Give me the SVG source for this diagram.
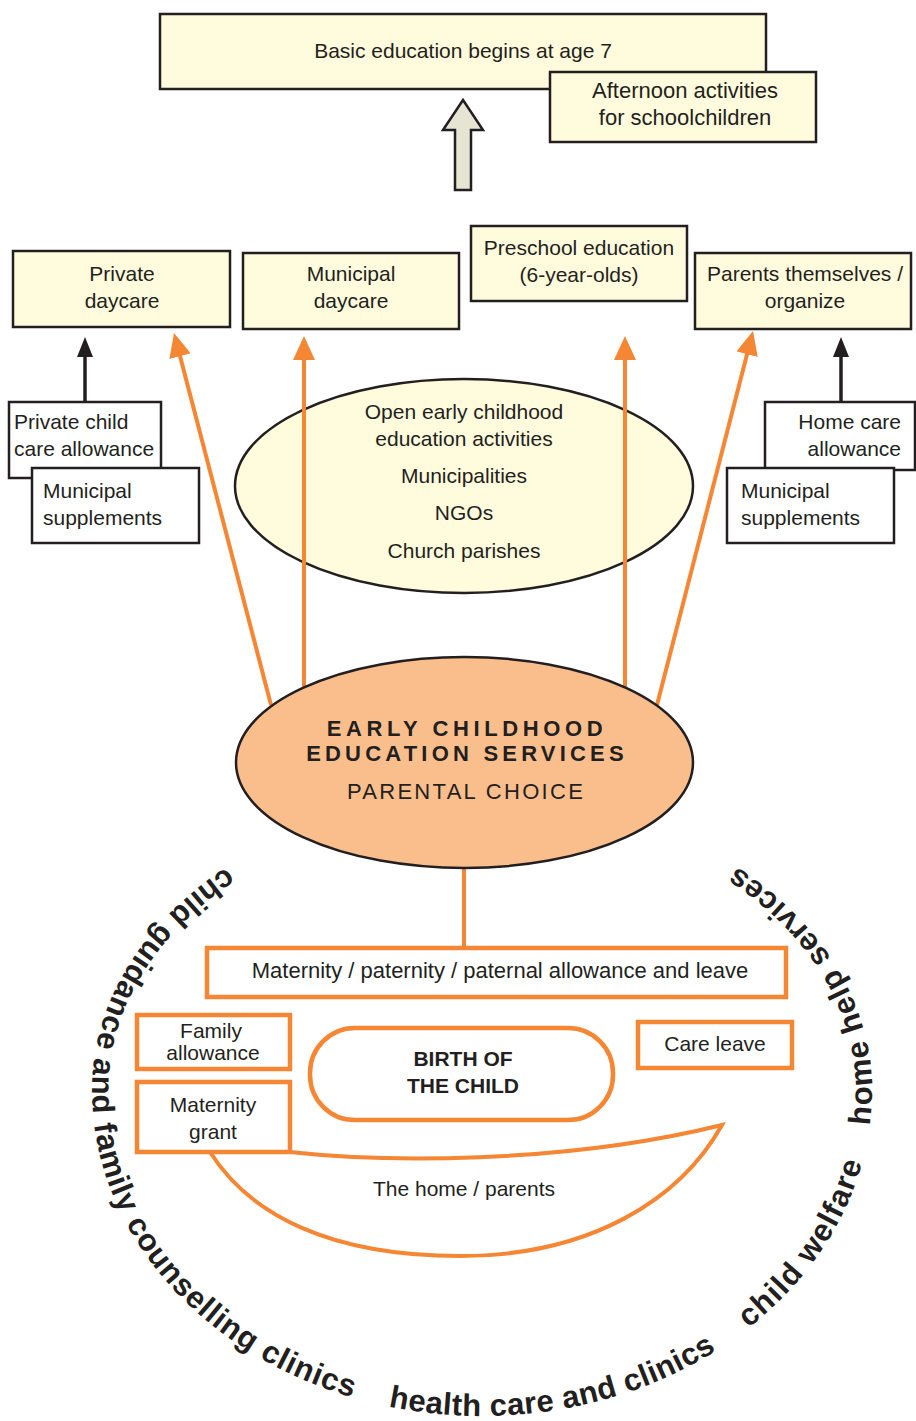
<svg xmlns="http://www.w3.org/2000/svg" width="916" height="1421" viewBox="0 0 916 1421">
<style>
.box{fill:#FFFBDC;stroke:#231F20;stroke-width:2.5}
.wbox{fill:#FFFFFF;stroke:#231F20;stroke-width:2.5}
.obox{fill:#FFFFFF;stroke:#F58634;stroke-width:4.5}
.t{font-family:"Liberation Sans",Arial,sans-serif;font-size:21px;fill:#231F20}
.t22{font-size:22px}
.c{text-anchor:middle}
.e{text-anchor:end}
.b{font-weight:bold}
.ring{font-family:"Liberation Sans",Arial,sans-serif;font-weight:bold;font-size:31px;fill:#231F20}
.oline{stroke:#F58634;stroke-width:4;fill:none}
.kline{stroke:#231F20;stroke-width:3.5;fill:none}
</style>
<defs>
<marker id="oa" markerUnits="userSpaceOnUse" markerWidth="24" markerHeight="22" viewBox="0 0 24 22" refX="3" refY="11" orient="auto"><path d="M0,0 L24,11 L0,22 z" fill="#F58634"/></marker>
<marker id="ka" markerUnits="userSpaceOnUse" markerWidth="20" markerHeight="16" viewBox="0 0 20 16" refX="2" refY="8" orient="auto"><path d="M0,0 L20,8 L0,16 z" fill="#231F20"/></marker>
<path id="ringpath" d="M 228 866 A 390 295 0 0 0 92 1090 A 390 326 0 0 0 872 1090 A 390 295 0 0 0 722.1 857.5"/>
</defs>
<rect width="916" height="1421" fill="#FFFFFF"/>

<g id="basic-education">
<rect class="box" x="160" y="14" width="606" height="75"/>
<text class="t c" x="463" y="58">Basic education begins at age 7</text>
</g>
<g id="afternoon-activities">
<rect class="box" x="550" y="72" width="266" height="70"/>
<text class="t t22 c" x="685" y="98">Afternoon activities</text>
<text class="t t22 c" x="685" y="125">for schoolchildren</text>
</g>
<g id="big-arrow">
<polygon points="463,100 483,130 471,130 471,190 455,190 455,130 443,130" fill="#E6E5D3" stroke="#231F20" stroke-width="2.5" stroke-linejoin="miter"/>
</g>

<g id="private-daycare">
<rect class="box" x="13" y="251" width="217" height="76"/>
<text class="t c" x="122" y="281">Private</text>
<text class="t c" x="122" y="308">daycare</text>
</g>
<g id="municipal-daycare">
<rect class="box" x="243" y="253" width="216" height="76"/>
<text class="t c" x="351" y="281">Municipal</text>
<text class="t c" x="351" y="308">daycare</text>
</g>
<g id="preschool">
<rect class="box" x="471" y="226" width="216" height="75"/>
<text class="t c" x="579" y="255">Preschool education</text>
<text class="t c" x="579" y="282">(6-year-olds)</text>
</g>
<g id="parents-organize">
<rect class="box" x="695" y="253" width="216" height="76"/>
<text class="t c" x="805" y="281">Parents themselves /</text>
<text class="t c" x="805" y="308">organize</text>
</g>

<g id="private-allowance">
<rect class="wbox" x="9" y="402" width="152" height="76"/>
<text class="t" x="14" y="429">Private child</text>
<text class="t" x="14" y="456">care allowance</text>
</g>
<g id="municipal-supplements-left">
<rect class="wbox" x="32" y="468" width="167" height="75"/>
<text class="t" x="43" y="498">Municipal</text>
<text class="t" x="43" y="525">supplements</text>
</g>
<g id="home-care-allowance">
<rect class="wbox" x="765" y="402" width="150" height="68"/>
<text class="t e" x="901" y="429">Home care</text>
<text class="t e" x="901" y="456">allowance</text>
</g>
<g id="municipal-supplements-right">
<rect class="wbox" x="727" y="468" width="167" height="75"/>
<text class="t" x="741" y="498">Municipal</text>
<text class="t" x="741" y="525">supplements</text>
</g>

<g id="open-activities">
<ellipse cx="464" cy="486" rx="229" ry="107" fill="#FFFBDC" stroke="#231F20" stroke-width="2.5"/>
<text class="t c" x="464" y="419">Open early childhood</text>
<text class="t c" x="464" y="446">education activities</text>
<text class="t c" x="464" y="483">Municipalities</text>
<text class="t c" x="464" y="520">NGOs</text>
<text class="t c" x="464" y="558">Church parishes</text>
</g>

<g id="connectors">
<line class="kline" x1="85" y1="402" x2="85" y2="355" marker-end="url(#ka)"/>
<line class="kline" x1="841" y1="402" x2="841" y2="355" marker-end="url(#ka)"/>
<line class="oline" x1="271" y1="705" x2="179.3" y2="353.3" marker-end="url(#oa)"/>
<line class="oline" x1="304" y1="700" x2="304" y2="357" marker-end="url(#oa)"/>
<line class="oline" x1="625" y1="700" x2="625" y2="357" marker-end="url(#oa)"/>
<line class="oline" x1="657" y1="705" x2="747.8" y2="351.3" marker-end="url(#oa)"/>
<line class="oline" x1="464" y1="860" x2="464" y2="948"/>
</g>

<g id="ecec-services">
<ellipse cx="464.5" cy="762.5" rx="228.5" ry="105.5" fill="#F9BE8C" stroke="#231F20" stroke-width="2.5"/>
<text class="t t22 c b" x="467" y="736" letter-spacing="4.6">EARLY CHILDHOOD</text>
<text class="t t22 c b" x="467" y="761" letter-spacing="4.2">EDUCATION SERVICES</text>
<text class="t t22 c" x="466" y="799" letter-spacing="2.3">PARENTAL CHOICE</text>
</g>

<g id="maternity-leave">
<rect class="obox" x="207" y="948" width="579" height="49"/>
<text class="t t22 c" x="500" y="978">Maternity / paternity / paternal allowance and leave</text>
</g>

<g id="home-parents">
<path d="M 210 1152 L 290 1152 C 380 1162 560 1165 722 1125 C 680 1200 590 1256 460 1256 C 330 1256 250 1215 210 1152 Z" fill="#FFFFFF" stroke="#F58634" stroke-width="4" stroke-linejoin="miter"/>
<text class="t c" x="464" y="1196">The home / parents</text>
</g>

<g id="family-allowance">
<rect class="obox" x="137" y="1015" width="153" height="54"/>
<text class="t c" x="211" y="1038">Family</text>
<text class="t c" x="213" y="1060">allowance</text>
</g>
<g id="maternity-grant">
<rect class="obox" x="137" y="1082" width="153" height="70"/>
<text class="t c" x="213" y="1112">Maternity</text>
<text class="t c" x="213" y="1139">grant</text>
</g>
<g id="birth">
<rect class="obox" x="310" y="1028" width="303" height="92" rx="45" ry="45"/>
<text class="t c b" x="463" y="1066">BIRTH OF</text>
<text class="t c b" x="463" y="1093">THE CHILD</text>
</g>
<g id="care-leave">
<rect class="obox" x="638" y="1022" width="154" height="46"/>
<text class="t c" x="715" y="1051">Care leave</text>
</g>

<g id="ring-labels">
<text class="ring" letter-spacing="0.86"><textPath href="#ringpath" startOffset="2">child</textPath></text>
<text class="ring" letter-spacing="0.86"><textPath href="#ringpath" startOffset="88.2">guidance</textPath></text>
<text class="ring" letter-spacing="0.86"><textPath href="#ringpath" startOffset="240.6">and</textPath></text>
<text class="ring" letter-spacing="0.86"><textPath href="#ringpath" startOffset="307.8">family</textPath></text>
<text class="ring" letter-spacing="0.86"><textPath href="#ringpath" startOffset="412.1">counselling</textPath></text>
<text class="ring" letter-spacing="0.86"><textPath href="#ringpath" startOffset="603.3">clinics</textPath></text>
<text class="ring" letter-spacing="0.39"><textPath href="#ringpath" startOffset="742">health</textPath></text>
<text class="ring" letter-spacing="0.39"><textPath href="#ringpath" startOffset="844.6">care</textPath></text>
<text class="ring" letter-spacing="0.39"><textPath href="#ringpath" startOffset="918.9">and</textPath></text>
<text class="ring" letter-spacing="0.39"><textPath href="#ringpath" startOffset="984.2">clinics</textPath></text>
<text class="ring" letter-spacing="1.35"><textPath href="#ringpath" startOffset="1122">child</textPath></text>
<text class="ring" letter-spacing="1.35"><textPath href="#ringpath" startOffset="1211.1">welfare</textPath></text>
<text class="ring" letter-spacing="1.19"><textPath href="#ringpath" startOffset="1364">home</textPath></text>
<text class="ring" letter-spacing="1.19"><textPath href="#ringpath" startOffset="1461.3">help</textPath></text>
<text class="ring" letter-spacing="1.19"><textPath href="#ringpath" startOffset="1539.6">services</textPath></text>
</g>
</svg>
